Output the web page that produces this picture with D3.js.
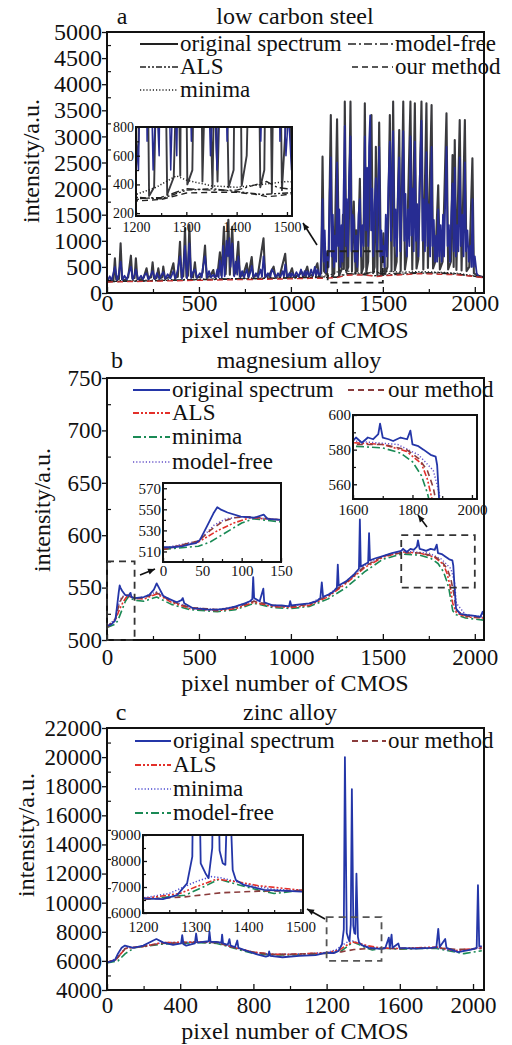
<!DOCTYPE html>
<html><head><meta charset="utf-8">
<script src="https://cdn.jsdelivr.net/npm/d3@7/dist/d3.min.js"></script>
<style>body{margin:0;background:#fff}svg{display:block}</style>
</head><body>
<svg id="c" width="512" height="1045"></svg>
<script>
// ---------------- DATA ----------------
// Panel a: low carbon steel
const A_GRAY = [[0,230],[20,240],[35,250],[43,665],[50,260],[65,270],[74,952],[82,260],[100,250],[115,300],[130,715],[138,280],[150,290],[157,665],[165,270],[185,260],[200,300],[215,473],[225,280],[240,300],[248,588],[256,280],[270,290],[279,473],[288,280],[300,300],[306,505],[315,280],[340,300],[361,568],[370,290],[385,310],[397,983],[405,300],[415,320],[424,1239],[432,300],[440,330],[448,1300],[456,320],[468,300],[478,588],[486,300],[510,310],[520,400],[533,907],[542,300],[560,320],[578,440],[585,310],[600,330],[614,780],[622,340],[636,1270],[645,360],[660,1400],[668,350],[681,1270],[690,340],[700,400],[714,983],[722,320],[740,340],[760,568],[768,320],[787,690],[795,320],[820,340],[851,1047],[860,320],[880,330],[906,505],[915,320],[940,340],[969,750],[978,320],[990,330],[1006,473],[1015,320],[1040,330],[1060,400],[1070,320],[1089,505],[1098,330],[1120,350],[1144,568],[1152,340],[1165,380],[1172,2612],[1180,420],[1195,350],[1205,700],[1217,3410],[1226,320],[1236,380],[1251,3327],[1262,330],[1275,450],[1283,1500],[1288,460],[1293,3666],[1302,400],[1312,500],[1324,3666],[1332,420],[1342,1750],[1352,380],[1356,1200],[1362,420],[1375,2190],[1384,380],[1394,500],[1402,3634],[1410,390],[1420,600],[1438,3410],[1447,380],[1455,500],[1462,2803],[1470,340],[1480,3263],[1490,360],[1503,1143],[1512,360],[1525,500],[1538,3410],[1547,420],[1556,3666],[1565,430],[1575,600],[1589,3123],[1597,420],[1611,3666],[1620,450],[1630,700],[1650,3666],[1660,450],[1674,3634],[1683,470],[1693,650],[1710,3666],[1720,450],[1737,3634],[1745,480],[1765,3602],[1773,470],[1785,600],[1801,2063],[1810,450],[1825,600],[1846,3443],[1855,450],[1870,600],[1879,2644],[1885,500],[1891,2932],[1900,440],[1918,3315],[1928,430],[1946,3315],[1955,420],[1970,500],[1987,2580],[1995,380],[2010,340],[2030,320],[2048,300]];
const A_BLUE = [[0,220],[15,320],[25,240],[43,500],[55,240],[63,350],[74,600],[85,250],[95,330],[108,260],[118,380],[130,500],[140,260],[150,350],[157,450],[170,255],[185,330],[195,260],[205,350],[215,380],[225,260],[235,320],[248,420],[260,265],[272,380],[285,270],[295,340],[306,400],[318,270],[330,360],[345,280],[361,420],[372,275],[385,450],[397,700],[408,280],[416,500],[424,900],[435,285],[441,600],[448,950],[458,290],[468,400],[478,450],[490,290],[505,380],[515,300],[522,500],[533,700],[545,290],[555,420],[565,300],[578,350],[590,295],[600,450],[607,300],[614,620],[624,300],[632,900],[640,320],[650,1000],[658,700],[666,1050],[672,500],[681,950],[692,320],[700,600],[708,350],[714,700],[725,300],[735,420],[745,300],[760,450],[770,300],[780,400],[787,520],[797,300],[810,380],[822,300],[835,450],[843,310],[851,700],[862,300],[875,380],[888,300],[896,450],[906,400],[917,300],[930,380],[942,300],[955,420],[962,310],[969,550],[980,305],[992,380],[1000,310],[1006,380],[1018,310],[1030,400],[1042,310],[1055,450],[1065,320],[1075,420],[1082,320],[1089,420],[1100,315],[1110,450],[1120,330],[1130,500],[1137,330],[1144,450],[1155,320],[1160,350],[1166,900],[1172,1800],[1178,600],[1184,1200],[1190,400],[1198,800],[1205,500],[1211,1900],[1217,2600],[1222,700],[1228,1500],[1234,500],[1240,1100],[1246,600],[1251,2500],[1257,900],[1263,1600],[1269,500],[1275,1300],[1281,600],[1287,2000],[1293,3200],[1298,900],[1304,1800],[1310,700],[1316,2200],[1324,3000],[1330,800],[1336,1500],[1342,1400],[1348,600],[1355,1100],[1361,500],[1368,1500],[1375,1800],[1381,700],[1388,1300],[1395,900],[1402,3000],[1408,1200],[1414,2400],[1420,900],[1425,2800],[1431,3400],[1436,1200],[1442,2000],[1448,700],[1455,1700],[1462,2200],[1468,800],[1474,1900],[1480,2800],[1486,700],[1492,1200],[1498,600],[1503,900],[1509,500],[1516,1500],[1522,700],[1530,2000],[1538,2900],[1544,1000],[1550,2300],[1556,3100],[1562,900],[1570,1600],[1576,700],[1582,1900],[1589,2600],[1595,800],[1603,1800],[1611,3100],[1617,1000],[1623,1900],[1630,700],[1637,1600],[1644,900],[1650,3000],[1656,1100],[1662,2000],[1668,800],[1674,2900],[1680,1000],[1687,1700],[1693,700],[1700,2100],[1710,3300],[1716,1000],[1722,1800],[1729,800],[1737,2700],[1743,900],[1750,1700],[1757,700],[1765,2800],[1770,900],[1777,1400],[1783,600],[1790,1100],[1795,600],[1801,1600],[1807,700],[1814,1300],[1820,600],[1827,1500],[1833,700],[1840,1900],[1846,2800],[1852,900],[1859,1300],[1865,600],[1872,1500],[1879,2100],[1885,800],[1891,2400],[1897,700],[1904,1300],[1911,800],[1918,2600],[1924,900],[1932,1500],[1939,700],[1946,2500],[1952,800],[1960,1200],[1967,600],[1975,900],[1982,500],[1987,1800],[1993,500],[2000,700],[2010,380],[2020,320],[2048,300]];
const A_ALS = [[0,220],[200,230],[400,250],[600,270],[800,280],[1000,290],[1100,300],[1200,310],[1250,300],[1300,360],[1350,370],[1400,350],[1450,330],[1500,340],[1600,360],[1700,380],[1800,390],[1900,370],[2000,320],[2048,300]];
const A_MINIMA = [[0,230],[300,250],[600,270],[900,290],[1100,310],[1200,330],[1240,380],[1280,460],[1300,430],[1350,390],[1400,380],[1450,400],[1500,420],[1600,400],[1700,410],[1800,400],[1900,380],[2000,330],[2048,310]];
const A_MODELFREE = [[0,215],[300,240],[600,260],[900,280],[1100,295],[1200,300],[1250,310],[1300,370],[1350,360],[1400,360],[1440,400],[1460,420],[1480,380],[1500,370],[1600,380],[1700,390],[1800,380],[1900,360],[2000,320],[2048,300]];
const A_OURS = [[0,210],[300,230],[600,250],[900,265],[1100,280],[1200,285],[1250,295],[1300,340],[1350,345],[1400,345],[1440,330],[1460,315],[1480,320],[1500,330],[1600,350],[1700,370],[1800,360],[1900,350],[2000,315],[2048,295]];
const A_YTICKS = [0,500,1000,1500,2000,2500,3000,3500,4000,4500,5000];
const A_XTICKS = [0,500,1000,1500,2000];
const A_IN_YTICKS = [200,400,600,800];
const A_IN_XTICKS = [1200,1300,1400,1500];

// Panel b: magnesium alloy
const B_SPEC = [[0,514],[13,514],[25,515],[35,517],[42,518],[47,521],[56,534],[64,546],[69,552],[73,550],[82,547],[99,543],[116,542],[128,545],[133,541],[150,540],[200,541],[230,543],[255,548],[270,554],[285,549],[306,542],[340,539],[380,536],[405,538],[412,540],[420,535],[470,530],[500,530],[550,529],[600,529],[650,530],[700,532],[750,535],[777,537],[790,539],[795,560],[800,540],[830,537],[850,549],[855,536],[900,533],[950,533],[990,532],[996,537],[1002,533],[1050,534],[1100,535],[1140,537],[1160,540],[1168,555],[1175,541],[1200,543],[1230,546],[1250,550],[1255,572],[1260,552],[1300,556],[1340,562],[1370,568],[1375,615],[1380,570],[1400,572],[1420,574],[1425,602],[1430,576],[1460,578],[1500,580],[1550,583],[1600,585],[1610,587],[1630,584],[1650,587],[1668,586],[1685,589],[1691,595],[1700,587],[1720,586],[1735,585],[1760,587],[1782,586],[1793,591],[1800,583],[1820,582],[1837,580],[1861,577],[1878,576],[1883,571],[1890,550],[1898,530],[1920,525],[1956,524],[2000,523],[2030,522],[2043,527],[2048,524]];
const B_OURS = [[0,512],[45,520],[60,530],[75,538],[90,542],[110,543],[150,540],[200,540],[270,545],[350,537],[450,531],[600,529],[700,531],[800,537],[900,533],[1000,532],[1100,534],[1200,542],[1300,555],[1400,570],[1500,580],[1600,583],[1700,583],[1780,580],[1820,575],[1850,568],[1870,558],[1885,545],[1900,528],[1950,523],[2048,521]];
const B_ALS = [[0,512],[45,519],[70,530],[90,537],[110,542],[150,540],[200,539],[270,544],[350,536],[450,530],[600,528],[700,530],[800,536],[900,532],[1000,531],[1100,533],[1200,541],[1300,554],[1400,569],[1500,579],[1600,584],[1700,583],[1780,579],[1830,572],[1850,563],[1865,552],[1880,535],[1900,526],[1950,522],[2048,521]];
const B_MINIMA = [[0,512],[45,515],[60,519],[80,528],[100,537],[115,541],[150,538],[200,537],[270,541],[350,534],[450,529],[600,527],[700,529],[800,535],[900,531],[1000,530],[1100,532],[1200,539],[1300,550],[1400,565],[1500,577],[1600,582],[1700,581],[1760,578],[1800,573],[1830,565],[1850,555],[1860,548],[1880,528],[1900,524],[1950,521],[2048,519]];
const B_MODELFREE = [[0,513],[45,520],[65,535],[80,541],[100,543],[150,540],[200,541],[270,546],[350,538],[450,531],[600,529],[700,532],[800,538],[900,533],[1000,532],[1100,535],[1200,543],[1300,556],[1400,571],[1500,580],[1600,585],[1750,583],[1820,577],[1870,568],[1890,555],[1900,535],[1950,524],[2048,522]];
const B_YTICKS = [500,550,600,650,700,750];
const B_XTICKS = [0,500,1000,1500,2000];
const B_IN1_YTICKS = [560,580,600];
const B_IN1_XTICKS = [1600,1800,2000];
const B_IN2_YTICKS = [510,530,550,570];
const B_IN2_XTICKS = [0,50,100,150];

// Panel c: zinc alloy
const C_SPEC = [[0,5900],[20,5950],[43,6050],[60,6500],[80,6900],[98,7050],[143,6900],[198,7050],[253,7400],[270,7500],[306,7270],[361,7100],[405,7200],[411,7770],[418,7150],[433,7050],[480,7200],[487,7880],[494,7250],[524,7300],[555,7350],[560,8000],[566,7300],[596,7300],[625,7250],[629,7800],[634,7200],[660,7100],[669,7500],[675,7050],[700,6950],[712,7400],[718,6900],[760,6700],[820,6450],[868,6300],[882,6350],[886,6650],[892,6350],[959,6250],[1050,6350],[1140,6400],[1200,6560],[1238,6530],[1265,6690],[1284,7140],[1294,8170],[1300,20000],[1310,7910],[1319,7530],[1325,7340],[1332,8500],[1338,17800],[1346,8400],[1352,7910],[1357,7850],[1363,12000],[1371,7650],[1377,7270],[1392,7080],[1431,6890],[1463,6860],[1502,6820],[1521,6900],[1540,7600],[1545,6900],[1555,7800],[1560,6900],[1592,7200],[1598,6900],[1685,6840],[1772,6900],[1800,6950],[1810,8200],[1818,6950],[1848,7500],[1855,6900],[1918,6600],[1989,6770],[2020,6900],[2027,11200],[2034,7000],[2048,7000]];
const C_ALS = [[0,5900],[50,6100],[100,6850],[200,7000],[300,7250],[500,7300],[600,7300],[700,6900],[800,6600],[900,6450],[1000,6450],[1100,6500],[1200,6550],[1270,6750],[1300,7000],[1340,7300],[1380,7200],[1420,7050],[1500,6880],[1600,6850],[1700,6900],[1800,6950],[1900,6700],[2000,6850],[2048,6950]];
const C_MINIMA = [[0,5900],[50,6150],[100,6900],[200,7000],[300,7250],[500,7300],[600,7250],[700,6900],[800,6600],[900,6450],[1000,6450],[1100,6500],[1200,6580],[1250,6750],[1300,7200],[1330,7400],[1350,7350],[1400,7100],[1450,6900],[1500,6880],[1600,6850],[1700,6900],[1800,6900],[1900,6650],[2000,6800],[2048,6900]];
const C_MODELFREE = [[0,5850],[60,6000],[100,6500],[150,6900],[300,7150],[500,7250],[600,7200],[700,6850],[800,6500],[900,6400],[1000,6400],[1100,6450],[1200,6520],[1280,6680],[1320,7050],[1345,7300],[1380,7100],[1420,6880],[1450,6750],[1500,6870],[1600,6800],[1700,6850],[1800,6850],[1950,6500],[2000,6600],[2048,6700]];
const C_OURS = [[0,5900],[50,6100],[100,6850],[200,7000],[300,7200],[500,7280],[600,7250],[700,6900],[800,6600],[900,6450],[1000,6450],[1100,6500],[1200,6520],[1280,6620],[1350,6780],[1420,6840],[1500,6860],[1600,6850],[1800,6900],[1900,6800],[2000,6800],[2048,6850]];
const C_YTICKS = [4000,6000,8000,10000,12000,14000,16000,18000,20000,22000];
const C_XTICKS = [0,400,800,1200,1600,2000];
const C_IN_YTICKS = [6000,7000,8000,9000];
const C_IN_XTICKS = [1200,1300,1400,1500];

// ---------------- DRAWING ----------------
const FONT = '"Liberation Serif","Times New Roman",serif';
const svg = d3.select("#c");
let clipId = 0;

const STY = {
  dashed: "6,4", dashdot: "8,3,2,3", dashdotdot: "6,2,2,2,2,2", dotted: "1.2,2", solid: null
};

function frame(o) {
  const x = d3.scaleLinear().domain(o.xd).range([o.x0, o.x1]);
  const y = d3.scaleLinear().domain(o.yd).range([o.y1, o.y0]);
  const g = svg.append("g");
  const id = "clip" + (clipId++);
  g.append("clipPath").attr("id", id).append("rect")
    .attr("x", o.x0).attr("y", o.y0).attr("width", o.x1 - o.x0).attr("height", o.y1 - o.y0);
  if (o.bg) g.append("rect").attr("x", o.x0).attr("y", o.y0).attr("width", o.x1 - o.x0).attr("height", o.y1 - o.y0).attr("fill", "#fff");
  const plot = g.append("g").attr("clip-path", `url(#${id})`);
  return {x, y, g, plot, o};
}

function axes(F, opt) {
  const {x, y, g, o} = F;
  const fs = opt.fs;
  const xa = g.append("g").attr("transform", `translate(0,${o.y1})`)
    .call(d3.axisBottom(x).tickValues(opt.xt).tickSize(-opt.xMaj).tickPadding(opt.xPad).tickFormat(d3.format("d")));
  xa.select(".domain").remove();
  xa.selectAll("text").attr("font-family", FONT).attr("font-size", fs).attr("fill", "#111");
  xa.selectAll("line").attr("stroke", "#111").attr("stroke-width", 1.3);
  if (opt.xm) {
    const xm = g.append("g").attr("transform", `translate(0,${o.y1})`)
      .call(d3.axisBottom(x).tickValues(opt.xm).tickSize(-opt.xMin).tickFormat(""));
    xm.select(".domain").remove();
    xm.selectAll("line").attr("stroke", "#111").attr("stroke-width", 1.2);
  }
  const ya = g.append("g").attr("transform", `translate(${o.x0},0)`)
    .call(d3.axisLeft(y).tickValues(opt.yt).tickSize(opt.yMaj).tickPadding(opt.yPad).tickFormat(d3.format("d")));
  ya.select(".domain").remove();
  ya.selectAll("text").attr("font-family", FONT).attr("font-size", opt.yfs || fs).attr("fill", "#111");
  ya.selectAll("line").attr("stroke", "#111").attr("stroke-width", 1.3);
  if (opt.ym) {
    const ym = g.append("g").attr("transform", `translate(${o.x0},0)`)
      .call(d3.axisLeft(y).tickValues(opt.ym).tickSize(-opt.yMin).tickFormat(""));
    ym.select(".domain").remove();
    ym.selectAll("line").attr("stroke", "#111").attr("stroke-width", 1.2);
  }
  g.append("rect").attr("x", o.x0).attr("y", o.y0).attr("width", o.x1 - o.x0).attr("height", o.y1 - o.y0)
    .attr("fill", "none").attr("stroke", "#111").attr("stroke-width", opt.fw || 2);
}

function series(F, data, color, dash, w) {
  const line = d3.line().x(d => F.x(d[0])).y(d => F.y(d[1]));
  F.plot.append("path").datum(data).attr("d", line).attr("fill", "none")
    .attr("stroke", color).attr("stroke-width", w || 1.6)
    .attr("stroke-dasharray", dash).attr("stroke-linejoin", "round");
}

function dashRect(F, x0, x1, y0, y1, color) {
  F.g.append("rect").attr("x", F.x(x0)).attr("y", F.y(y1))
    .attr("width", F.x(x1) - F.x(x0)).attr("height", F.y(y0) - F.y(y1))
    .attr("fill", "none").attr("stroke", color || "#333").attr("stroke-width", 1.8).attr("stroke-dasharray", "7,5");
}

function arrow(x1, y1, x2, y2) {
  svg.append("line").attr("x1", x1).attr("y1", y1).attr("x2", x2).attr("y2", y2)
    .attr("stroke", "#111").attr("stroke-width", 1.6);
  const a = Math.atan2(y2 - y1, x2 - x1), L = 7, W = 3;
  const bx = x2 - L * Math.cos(a), by = y2 - L * Math.sin(a);
  svg.append("path").attr("d", `M${x2},${y2}L${bx - W * Math.sin(a)},${by + W * Math.cos(a)}L${bx + W * Math.sin(a)},${by - W * Math.cos(a)}Z`).attr("fill", "#111");
}

function text(x, y, s, fs, anchor, rot) {
  const t = svg.append("text").attr("x", x).attr("y", y).text(s)
    .attr("font-family", FONT).attr("font-size", fs).attr("fill", "#111")
    .attr("text-anchor", anchor || "start");
  if (rot) t.attr("transform", `rotate(-90,${x},${y})`).attr("dominant-baseline", "central");
  return t;
}

function legendItem(x1, x2, y, label, color, dash, w) {
  svg.append("line").attr("x1", x1).attr("x2", x2).attr("y1", y).attr("y2", y)
    .attr("stroke", color).attr("stroke-width", w || 2).attr("stroke-dasharray", dash);
  text(x2 + 2, y + 7, label, 23);
}

const range = (a, b, s) => d3.range(a, b + 1e-9, s);

// ===== Panel a =====
{
  const F = frame({x0: 107, x1: 484, y0: 32, y1: 293, xd: [0, 2050], yd: [0, 5000]});
  series(F, A_GRAY, "#3a3a3e", null, 2.1);
  series(F, A_BLUE, "#272c92", null, 1.8);
  series(F, A_MODELFREE, "#222", STY.dashdot, 1.3);
  series(F, A_MINIMA, "#222", STY.dotted, 1.3);
  series(F, A_ALS, "#222", STY.dashdotdot, 1.3);
  series(F, A_OURS, "#c83030", STY.dashed, 1.4);
  axes(F, {xt: A_XTICKS, xm: range(250, 2000, 500), yt: A_YTICKS, ym: range(250, 4750, 500),
    fs: 24, xMaj: 6, xMin: 4, xPad: 1, yMaj: 5, yMin: 4, yPad: 0});
  dashRect(F, 1200, 1500, 200, 800, "#222");

  const I = frame({x0: 136, x1: 292, y0: 127, y1: 216, xd: [1200, 1510], yd: [180, 800], bg: true});
  series(I, A_GRAY, "#3a3a3e", null, 1.9);
  series(I, A_BLUE, "#272c92", null, 1.5);
  series(I, A_MODELFREE, "#222", STY.dashdot, 1.4);
  series(I, A_MINIMA, "#222", STY.dotted, 1.5);
  series(I, A_ALS, "#222", STY.dashdotdot, 1.4);
  series(I, A_OURS, "#222", STY.dashed, 1.4);
  axes(I, {xt: A_IN_XTICKS, xm: range(1250, 1450, 100), yt: A_IN_YTICKS, ym: range(300, 700, 200),
    fs: 14, xMaj: 4, xMin: 3, xPad: 6, yMaj: -4, yMin: 3, yPad: 2, fw: 2});
  arrow(317, 245, 303, 223);

  text(122, 24, "a", 24, "middle");
  text(295, 24, "low carbon steel", 24, "middle");
  text(295, 338, "pixel number of CMOS", 24, "middle");
  text(31, 161, "intensity/a.u.", 24, "middle", true);

  legendItem(140, 178, 44, "original spectrum", "#222", null, 2);
  legendItem(140, 178, 67, "ALS", "#222", STY.dashdotdot, 1.6);
  legendItem(140, 178, 90, "minima", "#222", STY.dotted, 1.4);
  legendItem(348, 393, 44, "model-free", "#222", STY.dashdot, 1.6);
  legendItem(352, 393, 67, "our method", "#222", STY.dashed, 1.6);
}

// ===== Panel b =====
{
  const BLUE = "#2436a8", OURS = "#8a3c3c", ALS = "#e3302a", MIN = "#1a8a55", MF = "#6552c8";
  const F = frame({x0: 107, x1: 484, y0: 378, y1: 640, xd: [0, 2050], yd: [500, 750]});
  series(F, B_MINIMA, MIN, STY.dashdot, 1.6);
  series(F, B_ALS, ALS, STY.dashdotdot, 1.6);
  series(F, B_MODELFREE, MF, STY.dotted, 1.4);
  series(F, B_OURS, OURS, STY.dashed, 1.6);
  series(F, B_SPEC, BLUE, null, 1.8);
  axes(F, {xt: B_XTICKS, xm: range(250, 2000, 500), yt: B_YTICKS, ym: range(525, 725, 50),
    fs: 23, yfs: 23, xMaj: 6, xMin: 4, xPad: 9, yMaj: 5, yMin: 4, yPad: 0});
  dashRect(F, 0, 150, 500, 575, "#333");
  dashRect(F, 1600, 2000, 550, 600, "#333");

  const I1 = frame({x0: 353, x1: 477, y0: 415, y1: 499, xd: [1600, 2017], yd: [551.5, 600], bg: true});
  series(I1, B_MINIMA, MIN, STY.dashdot, 1.6);
  series(I1, B_ALS, ALS, STY.dashdotdot, 1.6);
  series(I1, B_MODELFREE, MF, STY.dotted, 1.5);
  series(I1, B_OURS, OURS, STY.dashed, 1.6);
  series(I1, B_SPEC, BLUE, null, 1.8);
  axes(I1, {xt: B_IN1_XTICKS, xm: [1700, 1900], yt: B_IN1_YTICKS, ym: [570, 590], fs: 15,
    xMaj: 4, xMin: 3, xPad: 5, yMaj: -4, yMin: 3, yPad: 2, fw: 2});

  const I2 = frame({x0: 163, x1: 281, y0: 483, y1: 562, xd: [0, 150], yd: [500, 575], bg: true});
  series(I2, B_MINIMA, MIN, STY.dashdot, 1.6);
  series(I2, B_ALS, ALS, STY.dashdotdot, 1.6);
  series(I2, B_MODELFREE, MF, STY.dotted, 1.5);
  series(I2, B_OURS, OURS, STY.dashed, 1.6);
  series(I2, B_SPEC, BLUE, null, 1.8);
  axes(I2, {xt: B_IN2_XTICKS, xm: [25, 75, 125], yt: B_IN2_YTICKS, ym: [520, 540, 560], fs: 15,
    xMaj: 4, xMin: 3, xPad: 3, yMaj: -4, yMin: 3, yPad: 2, fw: 2});
  arrow(140, 575, 155, 569);
  arrow(427, 527, 418, 515);

  text(117, 368, "b", 24, "middle");
  text(299, 368, "magnesium alloy", 24, "middle");
  text(295, 691, "pixel number of CMOS", 24, "middle");
  text(42, 510, "intensity/a.u.", 24, "middle", true);

  legendItem(133, 170, 390, "original spectrum", BLUE, null, 2);
  legendItem(133, 170, 413, "ALS", ALS, STY.dashdotdot, 1.8);
  legendItem(133, 170, 437, "minima", MIN, STY.dashdot, 1.8);
  legendItem(133, 170, 462, "model-free", MF, STY.dotted, 1.4);
  legendItem(348, 386, 390, "our method", OURS, STY.dashed, 1.8);
}

// ===== Panel c =====
{
  const BLUE = "#2436a8", OURS = "#8a3c3c", ALS = "#e3302a", MIN = "#4a4ad0", MF = "#1a8a55";
  const F = frame({x0: 107, x1: 484, y0: 728, y1: 990, xd: [0, 2060], yd: [4000, 22000]});
  series(F, C_MODELFREE, MF, STY.dashdot, 1.6);
  series(F, C_MINIMA, MIN, STY.dotted, 1.5);
  series(F, C_ALS, ALS, STY.dashdotdot, 1.6);
  series(F, C_OURS, OURS, STY.dashed, 1.6);
  series(F, C_SPEC, BLUE, null, 1.8);
  axes(F, {xt: C_XTICKS, xm: range(200, 2000, 400), yt: C_YTICKS, ym: range(5000, 21000, 2000),
    fs: 23, yfs: 23, xMaj: 6, xMin: 4, xPad: 7, yMaj: 5, yMin: 4, yPad: 0});
  dashRect(F, 1200, 1500, 6000, 9000, "#555");

  const I = frame({x0: 143, x1: 303, y0: 835, y1: 913, xd: [1200, 1505], yd: [6000, 9000], bg: true});
  series(I, C_MODELFREE, MF, STY.dashdot, 1.6);
  series(I, C_MINIMA, MIN, STY.dotted, 1.5);
  series(I, C_ALS, ALS, STY.dashdotdot, 1.6);
  series(I, C_OURS, OURS, STY.dashed, 1.6);
  series(I, C_SPEC, BLUE, null, 1.8);
  axes(I, {xt: C_IN_XTICKS, xm: [1250, 1350, 1450], yt: C_IN_YTICKS, ym: [6500, 7500, 8500], fs: 15,
    xMaj: 4, xMin: 3, xPad: 8, yMaj: -4, yMin: 3, yPad: 2, fw: 2});
  arrow(325, 919, 307, 909);

  text(121, 720, "c", 24, "middle");
  text(290, 720, "zinc alloy", 24, "middle");
  text(295, 1039, "pixel number of CMOS", 24, "middle");
  text(26, 835, "intensity/a.u.", 24, "middle", true);

  legendItem(135, 171, 741, "original spectrum", BLUE, null, 2);
  legendItem(135, 171, 765, "ALS", ALS, STY.dashdotdot, 1.8);
  legendItem(135, 171, 789, "minima", MIN, STY.dotted, 1.6);
  legendItem(135, 171, 813, "model-free", MF, STY.dashdot, 1.8);
  legendItem(352, 386, 741, "our method", OURS, STY.dashed, 1.8);
}
</script>
</body></html>
